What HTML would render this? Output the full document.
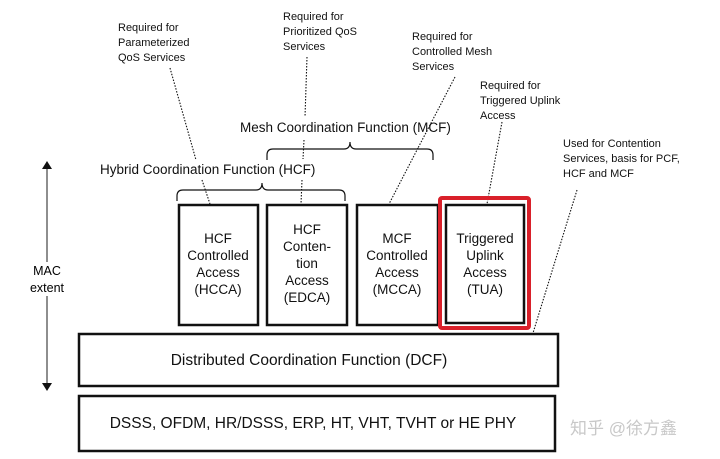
<!DOCTYPE html>
<html><head><style>
body{margin:0;background:#fff;}
svg{display:block;font-family:"Liberation Sans","Noto Sans CJK SC",sans-serif;}
</style></head><body>
<svg width="720" height="459" viewBox="0 0 720 459" xmlns="http://www.w3.org/2000/svg">
<defs><marker id="a" markerWidth="8" markerHeight="10" refX="4" refY="5" orient="auto-start-reverse" markerUnits="userSpaceOnUse"><path d="M0,0 L8,5 L0,10z" fill="#111"/></marker></defs>
<g font-size="11" fill="#111">
<text x="118" y="31">Required for</text><text x="118" y="46">Parameterized</text><text x="118" y="61">QoS Services</text>
<text x="283" y="20">Required for</text><text x="283" y="35">Prioritized QoS</text><text x="283" y="50">Services</text>
<text x="412" y="40">Required for</text><text x="412" y="55">Controlled Mesh</text><text x="412" y="70">Services</text>
<text x="480" y="89">Required for</text><text x="480" y="104">Triggered Uplink</text><text x="480" y="119">Access</text>
<text x="563" y="147">Used for Contention</text><text x="563" y="162">Services, basis for PCF,</text><text x="563" y="177">HCF and MCF</text>
</g>
<g font-size="13.5" fill="#111">
<text x="240" y="132">Mesh Coordination Function (MCF)</text>
<text x="100" y="174">Hybrid Coordination Function (HCF)</text>
</g>
<g fill="none" stroke="#111" stroke-width="1.2">
<path d="M177,201 v-5 q0,-6 6,-6 h73 q6,0 6,-7 q0,7 6,7 h71 q6,0 6,6 v5"/>
<path d="M267,160 v-5 q0,-6 6,-6 h71 q6,0 6,-7 q0,7 6,7 h71 q6,0 6,6 v5"/>
</g>
<g stroke="#111" stroke-width="1.1" stroke-dasharray="1.5,1.5" fill="none">
<line x1="170" y1="68" x2="196" y2="160"/><line x1="202" y1="180" x2="210" y2="204"/>
<line x1="307" y1="57" x2="305" y2="117"/><line x1="304" y1="140" x2="303" y2="159"/><line x1="302" y1="180" x2="301" y2="204"/>
<line x1="455" y1="77" x2="418" y2="148"/><line x1="418" y1="148" x2="389" y2="204"/>
<line x1="502" y1="122" x2="487" y2="204"/>
<line x1="577" y1="190" x2="533" y2="333"/>
</g>
<line x1="47" y1="165" x2="47" y2="387" stroke="#444" stroke-width="1.2" marker-start="url(#a)" marker-end="url(#a)"/>
<rect x="30" y="262" width="34" height="34" fill="#fff"/>
<text x="47" y="275" font-size="12.5" text-anchor="middle">MAC</text>
<text x="47" y="292" font-size="12.5" text-anchor="middle">extent</text>
<g fill="#fff" stroke="#111" stroke-width="2.5">
<rect x="179" y="205" width="79" height="120"/>
<rect x="267" y="205" width="80" height="120"/>
<rect x="357" y="205" width="81" height="120"/>
<rect x="446" y="205" width="78" height="118"/>
<rect x="79" y="334" width="479" height="52"/>
<rect x="79" y="396" width="476" height="55"/>
</g>
<rect x="440" y="198" width="89" height="130" fill="none" stroke="#d9202a" stroke-width="4" rx="2"/>
<g font-size="13.5" text-anchor="middle" fill="#111">
<text x="218" y="243">HCF</text><text x="218" y="260">Controlled</text><text x="218" y="277">Access</text><text x="218" y="294">(HCCA)</text>
<text x="307" y="234">HCF</text><text x="307" y="251">Conten-</text><text x="307" y="268">tion</text><text x="307" y="285">Access</text><text x="307" y="302">(EDCA)</text>
<text x="397" y="243">MCF</text><text x="397" y="260">Controlled</text><text x="397" y="277">Access</text><text x="397" y="294">(MCCA)</text>
<text x="485" y="243">Triggered</text><text x="485" y="260">Uplink</text><text x="485" y="277">Access</text><text x="485" y="294">(TUA)</text>
<text x="309" y="365" font-size="15.5">Distributed Coordination Function (DCF)</text>
<text x="313" y="428" font-size="15.5">DSSS, OFDM, HR/DSSS, ERP, HT, VHT, TVHT or HE PHY</text>
</g>
<text x="570" y="434" font-size="17" fill="#c8c8c8">知乎 @徐方鑫</text>
</svg>
</body></html>
